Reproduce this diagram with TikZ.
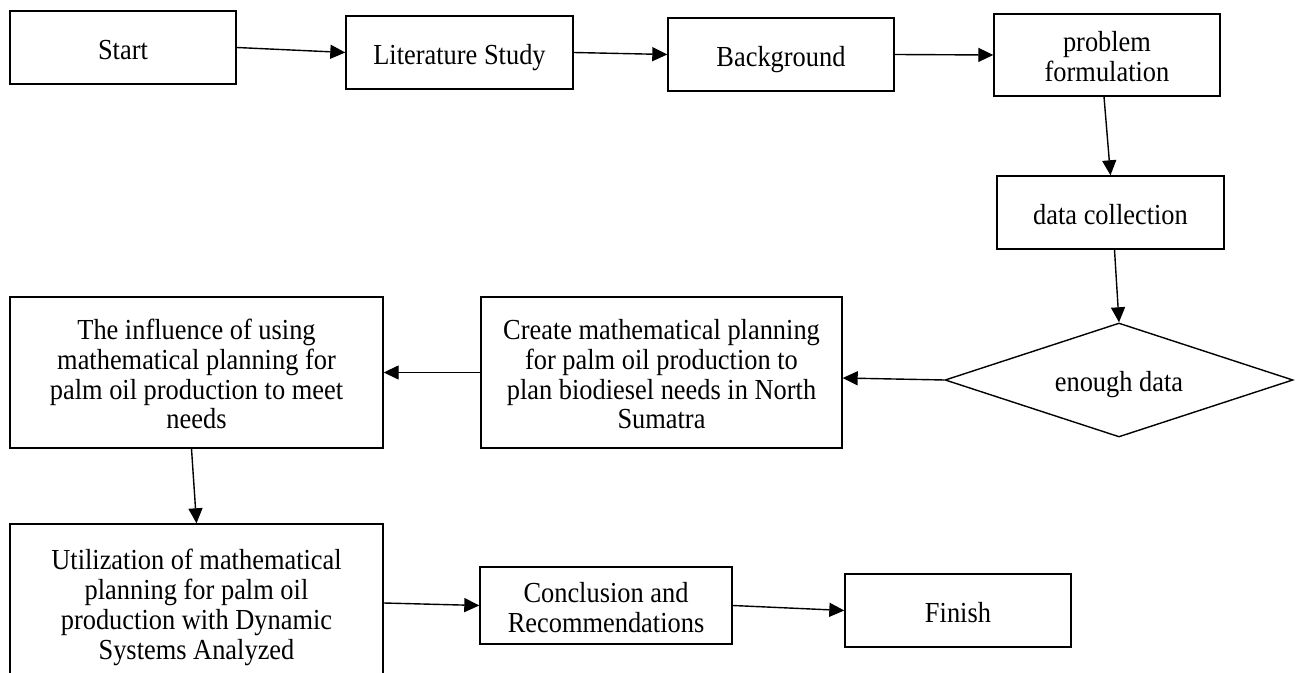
\documentclass[tikz,border=0pt]{standalone}
\usepackage{graphicx}
\usepackage{fontspec}
\setmainfont{Liberation Serif}
\usetikzlibrary{shapes.geometric,arrows.meta}
\newcommand{\talltext}[1]{\raisebox{-2.8pt}[\height][\depth]{\scalebox{1}[1.1]{\begin{tabular}{@{}c@{}}#1\end{tabular}}}}
\begin{document}
\begin{tikzpicture}[x=0.5pt,y=-0.5pt,
  every node/.style={font=\fontsize{13.2pt}{13.6pt}\selectfont, align=center, inner sep=0pt},
  procbox/.style={draw, line width=0.7pt, rectangle},
  decbox/.style={draw, line width=0.7pt, diamond, aspect=3},
  flow/.style={line width=0.7pt, -{Triangle[length=7.5pt,width=7pt]}}]
\useasboundingbox (0,0) rectangle (1298,673);
\fill[white] (0,0) rectangle (1298,673);
\clip (0,0) rectangle (1298,673);
% nodes
\node[procbox, minimum width=113pt, minimum height=36.5pt] (start) at (123,47.5) {\talltext{Start}};
\node[procbox, minimum width=113.5pt, minimum height=36.5pt] (lit) at (459.5,52.5) {\talltext{Literature Study}};
\node[procbox, minimum width=113pt, minimum height=36.5pt] (bg) at (781,54.5) {\talltext{Background}};
\node[procbox, minimum width=113pt, minimum height=41pt] (pf) at (1107,55) {\talltext{problem\\formulation}};
\node[procbox, minimum width=113.5pt, minimum height=36.5pt] (dc) at (1110.5,212.5) {\talltext{data collection}};
\node[decbox, minimum width=174pt, minimum height=57pt] (dec) at (1119,380) {\talltext{enough data}};
\node[procbox, minimum width=180.5pt, minimum height=75.5pt] (create) at (661.5,372.5) {\talltext{Create mathematical planning\\for palm oil production to\\plan biodiesel needs in North\\Sumatra}};
\node[procbox, minimum width=186.5pt, minimum height=75.5pt] (infl) at (196.5,372.5) {\talltext{The influence of using\\mathematical planning for\\palm oil production to meet\\needs}};
\node[procbox, minimum width=186.5pt, minimum height=79pt] (util) at (196.5,603) {\talltext{Utilization of mathematical\\planning for palm oil\\production with Dynamic\\Systems Analyzed}};
\node[procbox, minimum width=126pt, minimum height=38.5pt] (concl) at (606,605.5) {\talltext{Conclusion and\\Recommendations}};
\node[procbox, minimum width=113pt, minimum height=36.5pt] (finish) at (958,610.5) {\talltext{Finish}};
% connectors
\draw[flow] (start.east) -- (lit.west);
\draw[flow] (lit.east) -- (bg.west);
\draw[flow] (bg.east) -- (pf.west);
\draw[flow] ([xshift=-1.5pt]pf.south) -- (dc.north);
\draw[flow] ([xshift=2pt]dc.south) -- (dec.north);
\draw[flow] (dec.west) -- ([yshift=-2.75pt]create.east);
\draw[flow] (create.west) -- (infl.east);
\draw[flow] ([xshift=-2.5pt]infl.south) -- (util.north);
\draw[flow] (util.east) -- (concl.west);
\draw[flow] (concl.east) -- (finish.west);
\end{tikzpicture}
\end{document}
